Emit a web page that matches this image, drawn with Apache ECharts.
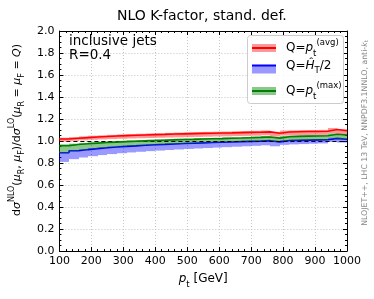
<!DOCTYPE html>
<html><head><meta charset="utf-8">
<script src="https://cdn.jsdelivr.net/npm/echarts@6/dist/echarts.min.js"></script>
<style>html,body{margin:0;padding:0;background:#fff}#c{width:374px;height:299px}</style>
</head><body><div id="c"></div>
<script>
// ---------------- data ----------------
const binEdges = [100,130,160,190,220,250,280,310,340,370,400,430,460,490,520,550,580,610,640,670,700,730,760,790,820,850,880,910,940,970,1000];
const xTickLabels = ['100','200','300','400','500','600','700','800','900','1000'];
const yTickLabels = ['0.0','0.2','0.4','0.6','0.8','1.0','1.2','1.4','1.6','1.8','2.0'];
const seriesNames = ['avg','ht','max'];

// Q = pt(avg)  (red)
const avgLine = [1.018,1.025,1.031,1.037,1.041,1.045,1.049,1.052,1.055,1.058,1.060,1.063,1.065,1.067,1.069,1.071,1.073,1.074,1.076,1.078,1.080,1.083,1.071,1.082,1.084,1.086,1.087,1.088,1.104,1.093];
const avgHi   = [1.030,1.036,1.042,1.048,1.052,1.056,1.060,1.063,1.066,1.069,1.071,1.074,1.077,1.079,1.081,1.083,1.085,1.086,1.088,1.091,1.093,1.096,1.084,1.095,1.097,1.099,1.100,1.101,1.118,1.107];
const avgLo   = [0.995,1.001,1.006,1.011,1.014,1.017,1.020,1.023,1.025,1.027,1.029,1.031,1.033,1.035,1.037,1.039,1.041,1.042,1.044,1.046,1.048,1.051,1.040,1.050,1.052,1.054,1.055,1.056,1.071,1.061];

// Q = HT/2  (blue)
const htLine = [0.893,0.912,0.922,0.931,0.938,0.945,0.951,0.956,0.961,0.966,0.969,0.973,0.977,0.980,0.983,0.986,0.989,0.991,0.994,0.997,0.999,1.003,0.992,1.004,1.006,1.008,1.010,1.011,1.024,1.016];
const htHi   = [0.898,0.917,0.927,0.936,0.943,0.950,0.956,0.961,0.966,0.971,0.974,0.978,0.982,0.985,0.988,0.991,0.994,0.996,0.999,1.002,1.004,1.008,0.997,1.009,1.011,1.013,1.015,1.016,1.029,1.021];
const htLo   = [0.810,0.835,0.850,0.862,0.872,0.881,0.889,0.896,0.902,0.908,0.913,0.918,0.923,0.928,0.932,0.936,0.940,0.944,0.948,0.952,0.956,0.961,0.952,0.965,0.969,0.972,0.975,0.978,0.992,0.986];

// Q = pt(max)  (green)
const maxLine = [0.958,0.968,0.975,0.981,0.986,0.990,0.994,0.998,1.001,1.004,1.007,1.010,1.013,1.015,1.018,1.020,1.022,1.025,1.027,1.030,1.033,1.037,1.026,1.039,1.042,1.044,1.046,1.048,1.062,1.054];
const maxHi   = [0.966,0.976,0.983,0.989,0.994,0.998,1.002,1.006,1.009,1.012,1.015,1.018,1.021,1.023,1.026,1.028,1.030,1.033,1.035,1.038,1.041,1.045,1.034,1.047,1.050,1.052,1.054,1.056,1.070,1.062];
const maxLo   = [0.891,0.910,0.920,0.929,0.936,0.943,0.949,0.954,0.959,0.964,0.967,0.971,0.975,0.978,0.981,0.984,0.987,0.989,0.992,0.995,0.997,1.001,0.990,1.002,1.004,1.006,1.008,1.009,1.022,1.014];

const refValue = 1.0;

// ---------------- chart ----------------
const FONT = 'DejaVu Sans';
const colors = {avg:'#ff0000', ht:'#0000ff', max:'#008000'};
const bandColors = {avg:'rgba(255,0,0,0.4)', ht:'rgba(0,0,255,0.4)', max:'rgba(0,128,0,0.45)'};

function stepData(vals){
  const d = vals.map((v,i)=>[binEdges[i], v]);
  d.push([binEdges[binEdges.length-1], vals[vals.length-1]]);
  return d;
}
function bandSeries(key, lo, hi, z){
  return {
    type:'custom', name:'band_'+key, z:z, silent:true,
    itemStyle:{color:bandColors[key]},
    data: lo.map((l,i)=>[binEdges[i], binEdges[i+1], l, hi[i]]),
    encode:{x:[0,1], y:[2,3]},
    renderItem:function(params, api){
      const a = api.coord([api.value(0), api.value(3)]);
      const b = api.coord([api.value(1), api.value(2)]);
      const x0 = Math.round(a[0]), x1 = Math.round(b[0]);
      return {type:'rect', shape:{x:x0, y:a[1], width:x1-x0, height:b[1]-a[1]}, style:{fill:bandColors[key]}};
    }
  };
}
function lineSeries(key, vals, z, extra){
  return Object.assign({
    type:'line', name:key, step:'end', z:z, silent:true,
    data: stepData(vals), symbol:'none', showSymbol:false,
    lineStyle:{color:colors[key], width:1.6}, itemStyle:{color:colors[key]}
  }, extra||{});
}

const richBase = {
  n:{fontFamily:FONT, fontSize:12, lineHeight:20, color:'#000', verticalAlign:'middle'},
  i:{fontFamily:FONT, fontSize:12, lineHeight:20, fontStyle:'italic', color:'#000', verticalAlign:'middle'},
  sub:{fontFamily:FONT, fontSize:8.5, lineHeight:10, color:'#000', verticalAlign:'bottom'},
  sup:{fontFamily:FONT, fontSize:8.5, lineHeight:8, color:'#000', verticalAlign:'top'}
};
const legendLabels = {
  avg:'{n|Q=}{i|p}{sub|t}{sup|(avg)}',
  ht:'{n|Q=}{i|Ĥ}{sub|T}{n|/2}',
  max:'{n|Q=}{i|p}{sub|t}{sup|(max)}'
};
const legendRowCenters = [48, 69.5, 91];

const axisCommon = {
  axisLine:{show:true, onZero:false, lineStyle:{color:'#000', width:1}},
  axisTick:{show:true, inside:true, length:4, lineStyle:{color:'#000', width:1}},
  minorTick:{show:true, length:2, lineStyle:{color:'#000', width:1}}
};
const gridLine = {show:true, lineStyle:{type:[1,2], color:'#c4c4c4', width:1}};

// one legend per row (band swatch + line swatch) so rows align exactly
const legends = [];
seriesNames.forEach((key, k)=>{
  legends.push({
    data:['band_'+key], orient:'vertical', left:252, top:legendRowCenters[k]-4,
    padding:0, itemWidth:24, itemHeight:8, icon:'rect',
    formatter:()=> '', textStyle:{fontSize:1, lineHeight:1},
    selectedMode:false, z:20
  });
  legends.push({
    data:[key], orient:'vertical', left:252, top:legendRowCenters[k]-10,
    padding:0, itemWidth:24, itemHeight:2, icon:'rect',
    formatter:(n)=>legendLabels[n],
    textStyle:{padding:[0,0,0,5], rich:richBase},
    selectedMode:false, z:21
  });
});

const option = {
  animation:false,
  backgroundColor:'#ffffff',
  title:{text:'NLO K-factor, stand. def.', left:117, top:9, padding:0,
    textStyle:{fontFamily:FONT, fontSize:14, fontWeight:'normal', color:'#000'}},
  grid:{left:57, right:27, top:31, bottom:48, containLabel:false},
  xAxis:[
    Object.assign({}, axisCommon, {
      type:'value', min:100, max:1000, interval:100, position:'bottom',
      minorTick:Object.assign({}, axisCommon.minorTick, {splitNumber:5}),
      axisLabel:{fontFamily:FONT, fontSize:11, color:'#000', margin:5,
        formatter:(v)=>xTickLabels[Math.round((v-100)/100)]},
      splitLine:gridLine,
      name:'{i|p}{sub|t}{n| [GeV]}', nameLocation:'middle', nameGap:18,
      nameTextStyle:{rich:richBase}
    }),
    Object.assign({}, axisCommon, {
      type:'value', min:100, max:1000, interval:100, position:'top',
      minorTick:Object.assign({}, axisCommon.minorTick, {splitNumber:5}),
      axisLabel:{show:false}, splitLine:{show:false}
    })
  ],
  yAxis:[
    Object.assign({}, axisCommon, {
      type:'value', min:0, max:2, interval:0.2, position:'left',
      minorTick:Object.assign({}, axisCommon.minorTick, {splitNumber:4}),
      axisLabel:{fontFamily:FONT, fontSize:11, color:'#000', margin:5,
        formatter:(v)=>yTickLabels[Math.round(v/0.2)]},
      splitLine:gridLine,
      name:'{n|d}{g|σ}{sup|NLO}{n|(}{g|μ}{sub|R}{n|, }{g|μ}{sub|F}{n|)/d}{g|σ}{sup|LO}{n|(}{g|μ}{sub|R}{n| = }{g|μ}{sub|F}{n| = }{g|Q}{n|)}',
      nameLocation:'middle', nameRotate:90, nameGap:24,
      nameTextStyle:{padding:[0,0,0,22], rich:{
        n:{fontFamily:FONT, fontSize:11, lineHeight:18, color:'#000', verticalAlign:'middle'},
        g:{fontFamily:FONT, fontSize:11, lineHeight:18, fontStyle:'italic', color:'#000', verticalAlign:'middle'},
        sub:{fontFamily:FONT, fontSize:8, lineHeight:9, color:'#000', verticalAlign:'bottom'},
        sup:{fontFamily:FONT, fontSize:8, lineHeight:8, color:'#000', verticalAlign:'top'}
      }}
    }),
    Object.assign({}, axisCommon, {
      type:'value', min:0, max:2, interval:0.2, position:'right',
      minorTick:Object.assign({}, axisCommon.minorTick, {splitNumber:4}),
      axisLabel:{show:false}, splitLine:{show:false}
    })
  ],
  legend:legends,
  graphic:[
    {type:'rect', left:247, top:35, z:19, silent:true,
      shape:{width:96, height:68, r:3},
      style:{fill:'rgba(255,255,255,0.85)', stroke:'#cccccc', lineWidth:1}},
    {type:'text', left:69, top:34, z:30, style:{text:'inclusive jets\nR=0.4', fontFamily:FONT, fontSize:13.5, lineHeight:14, fill:'#000'}},
    {type:'text', x:365, y:133, rotation:Math.PI/2, z:30, style:{
      text:'{n|NLOJET++, LHC 13 TeV, NNPDF3.1NNLO, anti-}{i|k}{sub|t}', align:'center', verticalAlign:'middle',
      rich:{
        n:{fontFamily:FONT, fontSize:7.8, lineHeight:10, fill:'#858585', color:'#858585', verticalAlign:'middle'},
        i:{fontFamily:FONT, fontSize:7.8, lineHeight:10, fontStyle:'italic', fill:'#858585', color:'#858585', verticalAlign:'middle'},
        sub:{fontFamily:FONT, fontSize:5.5, lineHeight:6, fill:'#858585', color:'#858585', verticalAlign:'bottom'}
      }}}
  ],
  series:[
    bandSeries('ht', htLo, htHi, 2),
    lineSeries('ht', htLine, 3, {markLine:{silent:true, symbol:'none', label:{show:false},
      lineStyle:{color:'#000', type:[4,3], width:1}, data:[{yAxis:refValue}]}}),
    bandSeries('max', maxLo, maxHi, 4),
    lineSeries('max', maxLine, 5),
    bandSeries('avg', avgLo, avgHi, 6),
    lineSeries('avg', avgLine, 7)
  ]
};
const chart = echarts.init(document.getElementById('c'), null, {renderer:'canvas'});
chart.setOption(option);
</script></body></html>
